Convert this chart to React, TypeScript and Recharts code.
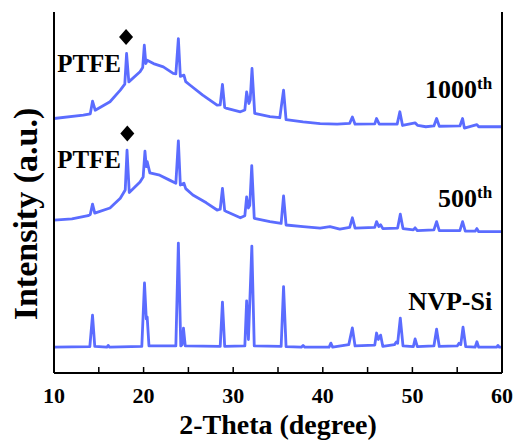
import React from 'react';
import {
  LineChart,
  Line,
  XAxis,
  YAxis,
  Label,
  ReferenceDot,
} from 'recharts';

// [2-theta, intensity (stacked, a.u.)]
const nvpSi: [number, number][] = [
  [10, 1.0], [14.0, 1.02], [14.3, 2.24], [14.55, 1.03], [15.9, 1.0], [16.05, 1.07], [16.2, 1.0],
  [19.8, 1.03], [20.1, 3.49], [20.3, 2.1], [20.4, 2.17], [20.6, 1.05], [23.6, 1.05], [23.88, 5.04],
  [24.15, 1.05], [24.3, 1.1], [24.45, 1.74], [24.65, 1.05], [28.55, 1.03], [28.8, 2.75], [29.05, 1.03],
  [31.3, 1.05], [31.5, 2.8], [31.7, 1.3], [32.08, 4.92], [32.35, 1.05], [35.35, 1.03], [35.62, 3.35],
  [35.9, 1.02], [37.6, 1.0], [37.8, 1.07], [38.0, 1.0], [40.7, 1.0], [40.9, 1.16], [41.1, 1.0],
  [42.9, 1.1], [43.3, 1.75], [43.6, 1.05], [45.8, 1.08], [46.0, 1.55], [46.2, 1.3], [46.45, 1.47],
  [46.7, 1.03], [48.0, 1.1], [48.2, 1.2], [48.35, 1.15], [48.65, 2.13], [48.95, 1.05], [50.1, 1.02],
  [50.3, 1.32], [50.55, 1.02], [52.4, 1.05], [52.7, 1.7], [53.0, 1.03], [55.0, 1.05], [55.2, 1.15],
  [55.4, 1.1], [55.65, 1.78], [55.95, 1.02], [57.0, 1.0], [57.2, 1.21], [57.4, 1.0], [59.4, 1.0],
  [59.55, 1.07], [59.7, 1.0], [60, 1.0],
];

const cycle500: [number, number][] = [
  [10, 5.93], [12, 5.98], [13.8, 6.1], [14.05, 6.15], [14.3, 6.55], [14.55, 6.2], [16.25, 6.4],
  [17.4, 6.78], [17.95, 7.1], [18.15, 8.64], [18.4, 7.0], [19.6, 7.41], [19.95, 7.6], [20.15, 8.6],
  [20.3, 8.0], [20.4, 8.2], [20.7, 7.76], [21.8, 7.67], [22.9, 7.48], [23.6, 7.36], [23.88, 9.0],
  [24.1, 7.29], [24.5, 7.36], [24.7, 7.15], [25.5, 6.9], [27.0, 6.6], [28.2, 6.32], [28.55, 6.35],
  [28.8, 7.16], [29.05, 6.3], [29.3, 6.25], [30.8, 6.02], [31.3, 6.1], [31.5, 6.83], [31.7, 6.4],
  [31.85, 6.5], [32.07, 8.04], [32.35, 6.0], [34.1, 5.87], [35.35, 5.8], [35.62, 6.87], [35.9, 5.74],
  [37.8, 5.68], [39.7, 5.62], [40.8, 5.68], [41.9, 5.58], [43.0, 5.65], [43.3, 6.02], [43.6, 5.62],
  [45.8, 5.65], [46.0, 5.87], [46.25, 5.68], [46.45, 5.75], [46.7, 5.6], [48.35, 5.62], [48.65, 6.16],
  [48.95, 5.6], [50.1, 5.55], [50.3, 5.63], [50.55, 5.52], [52.4, 5.55], [52.7, 5.87], [53.0, 5.52],
  [55.3, 5.52], [55.6, 5.87], [55.9, 5.5], [57.0, 5.5], [57.2, 5.6], [57.4, 5.48], [60, 5.48],
];

const cycle1000: [number, number][] = [
  [10, 9.87], [13.27, 10.0], [14.05, 10.05], [14.3, 10.54], [14.6, 10.19], [16.25, 10.52],
  [17.4, 10.97], [17.9, 11.2], [18.1, 12.39], [18.35, 11.29], [19.6, 11.68], [19.9, 11.85],
  [20.08, 12.71], [20.25, 12.0], [20.4, 12.13], [21.1, 12.0], [22.2, 11.87], [23.3, 11.62],
  [23.6, 11.6], [23.88, 12.97], [24.1, 11.5], [24.5, 11.55], [24.7, 11.3], [25.2, 11.16],
  [26.6, 10.78], [28.2, 10.39], [28.55, 10.4], [28.8, 11.19], [29.05, 10.3], [29.3, 10.26],
  [30.8, 10.13], [31.3, 10.2], [31.5, 10.9], [31.75, 10.45], [31.9, 10.6], [32.1, 11.81],
  [32.4, 10.07], [34.1, 9.94], [35.2, 9.9], [35.62, 10.97], [35.9, 9.83], [37.8, 9.74], [39.7, 9.67],
  [41.6, 9.65], [43.0, 9.68], [43.3, 9.93], [43.6, 9.65], [45.8, 9.66], [46.0, 9.87], [46.3, 9.65],
  [48.3, 9.65], [48.6, 10.13], [48.9, 9.6], [50.3, 9.7], [50.6, 9.6], [51.5, 9.55], [52.4, 9.58],
  [52.7, 9.87], [53.0, 9.57], [55.3, 9.58], [55.6, 9.87], [55.8, 9.5], [57.2, 9.63], [57.4, 9.55],
  [60, 9.55],
];

const xTicks = [10, 15, 20, 25, 30, 35, 40, 45, 50, 55, 60];
const yTicks = [0, 1, 2, 3, 4, 5, 6, 7, 8, 9, 10, 11, 12, 13, 14];

// annotation anchors in data units
const ptfeMarks = [
  { label: [10.35, 11.67], diamond: [18.04, 13.03] },
  { label: [10.35, 7.95], diamond: [18.18, 9.29] },
];
const traceLabels = [
  { text: '1000', sup: 'th', at: [58.9, 10.66] },
  { text: '500', sup: 'th', at: [58.9, 6.43] },
  { text: 'NVP-Si', sup: '', at: [58.9, 2.44] },
];

const FONT = '"Liberation Serif", "Times New Roman", serif';
const LINE = '#5b6cff';

const toPoints = (d: [number, number][]) => d.map(([x, y]) => ({ x, y }));

export default function App() {
  const axisLine = { stroke: '#000', strokeWidth: 2 };
  const tickLine = { stroke: '#000', strokeWidth: 1.5 };

  return (
    <div style={{ position: 'absolute', left: 0, top: 0, background: '#fff' }}>
      <LineChart width={516} height={441} margin={{ top: 12, right: 0, bottom: 0, left: 0 }}>
        <XAxis
          type="number"
          dataKey="x"
          domain={[10, 60]}
          ticks={xTicks}
          allowDataOverflow
          height={68}
          axisLine={axisLine}
          tickLine={tickLine}
          tickSize={-6}
          tickMargin={20}
          tickFormatter={(v: number) => (v % 10 === 0 ? String(v) : '')}
          tick={{ fill: '#000', fontSize: 22, fontWeight: 'bold', fontFamily: FONT }}
        >
          <Label
            value="2-Theta (degree)"
            position="insideBottom"
            offset={7}
            style={{ fill: '#000', fontSize: 28, fontWeight: 'bold', fontFamily: FONT }}
          />
        </XAxis>
        <XAxis
          xAxisId="top"
          orientation="top"
          type="number"
          domain={[10, 60]}
          ticks={xTicks}
          allowDataOverflow
          height={0}
          axisLine={axisLine}
          tickLine={tickLine}
          tickSize={-6}
          tick={false}
        />
        <YAxis
          type="number"
          domain={[0, 14]}
          ticks={yTicks}
          allowDataOverflow
          width={54}
          axisLine={axisLine}
          tickLine={tickLine}
          tickSize={-6}
          tick={false}
        >
          <Label
            content={() => (
              <text
                x={25}
                y={214}
                transform="rotate(-90, 25, 214)"
                textAnchor="middle"
                dominantBaseline="central"
                style={{ fill: '#000', fontSize: 34, fontWeight: 'bold', fontFamily: FONT }}
              >
                Intensity (a.u.)
              </text>
            )}
          />
        </YAxis>
        <YAxis
          yAxisId="right"
          orientation="right"
          type="number"
          domain={[0, 14]}
          ticks={yTicks}
          allowDataOverflow
          width={14}
          axisLine={axisLine}
          tickLine={tickLine}
          tickSize={-6}
          tick={false}
        />

        {[nvpSi, cycle500, cycle1000].map((d, i) => (
          <Line
            key={i}
            data={toPoints(d)}
            dataKey="y"
            type="linear"
            stroke={LINE}
            strokeWidth={2.8}
            strokeLinejoin="round"
            dot={false}
            isAnimationActive={false}
          />
        ))}

        {ptfeMarks.map((m, i) => (
          <ReferenceDot
            key={`ptfe-${i}`}
            x={m.label[0]}
            y={m.label[1]}
            r={0}
            shape={(p: any) => (
              <text
                x={p.cx}
                y={p.cy}
                textAnchor="start"
                style={{ fill: '#000', fontSize: 25, fontWeight: 'bold', fontFamily: FONT }}
              >
                PTFE
              </text>
            )}
          />
        ))}
        {ptfeMarks.map((m, i) => (
          <ReferenceDot
            key={`dia-${i}`}
            x={m.diamond[0]}
            y={m.diamond[1]}
            r={0}
            shape={(p: any) => (
              <polygon
                points={`${p.cx},${p.cy - 8} ${p.cx + 7},${p.cy} ${p.cx},${p.cy + 8} ${p.cx - 7},${p.cy}`}
                fill="#000"
              />
            )}
          />
        ))}
        {traceLabels.map((t, i) => (
          <ReferenceDot
            key={`lbl-${i}`}
            x={t.at[0]}
            y={t.at[1]}
            r={0}
            shape={(p: any) => (
              <text
                x={p.cx}
                y={p.cy}
                textAnchor="end"
                style={{ fill: '#000', fontSize: 26, fontWeight: 'bold', fontFamily: FONT }}
              >
                {t.text}
                {t.sup && (
                  <tspan fontSize={17} dy={-9}>
                    {t.sup}
                  </tspan>
                )}
              </text>
            )}
          />
        ))}
      </LineChart>
    </div>
  );
}
